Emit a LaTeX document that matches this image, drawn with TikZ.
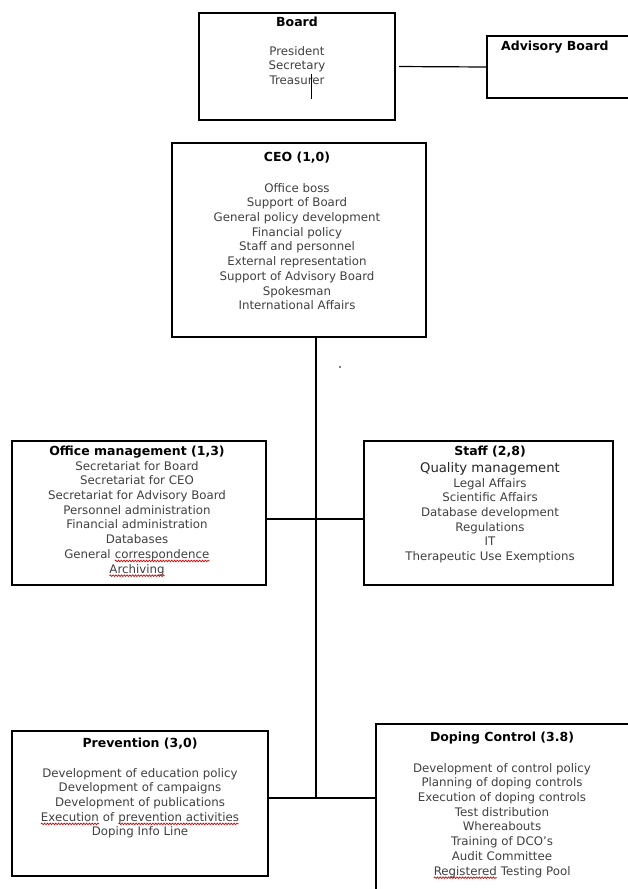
\documentclass[tikz,border=0pt]{standalone}
\usepackage{fontspec}
\setmainfont{DejaVu Sans}
\usetikzlibrary{decorations.pathmorphing}
\newcommand\squig[1]{\tikz[baseline=(sqw.base)]{\node[anchor=base,inner sep=0pt,outer sep=0pt,text=black!75](sqw) at (0,0){#1};\draw[red!85!black,line width=0.7pt,decorate,decoration={snake,amplitude=0.8pt,segment length=2.8pt}] ([yshift=-2.6pt]sqw.base west) -- ([yshift=-2.6pt]sqw.base east);}}
\tikzset{
  box/.style={draw, line width=1.2pt, inner sep=0pt, outer sep=0pt},
  ttl/.style={font=\bfseries\fontsize{12.5}{14}\selectfont, inner sep=0pt},
  body/.style={align=center, anchor=north, inner sep=0pt, font=\fontsize{11.8}{14.7}\selectfont, text=black!75},
  conn/.style={line width=1.2pt}
}
\begin{document}
\begin{tikzpicture}[x=1pt,y=-1pt]
\useasboundingbox (0,0) rectangle (628,889);
\clip (0,0) rectangle (628,889);
\fill[white] (0,0) rectangle (628,889);
% boxes
\node[box, minimum width=196pt, minimum height=107pt] (board) at (297,66.5) {};
\node[box, minimum width=200pt, minimum height=62pt] (adv) at (587,67) {};
\node[box, minimum width=254pt, minimum height=194pt] (ceo) at (299,240) {};
\node[box, minimum width=254pt, minimum height=144pt] (office) at (139,513) {};
\node[box, minimum width=249pt, minimum height=144pt] (staff) at (488.5,513) {};
\node[box, minimum width=256pt, minimum height=145pt] (prev) at (140,803.5) {};
\node[box, minimum width=324pt, minimum height=226pt] (dop) at (538,837) {};
% texts
\node[ttl] (boardT) at (297,22) {Board};
\node[body] (boardB) at (297,46) {President\\Secretary\\Treasurer};
\node[ttl, anchor=west] (advT) at (501,47) {Advisory Board};
\node[ttl] (ceoT) at (297,158) {CEO (1,0)};
\node[body] (ceoB) at (297,183) {Office boss\\Support of Board\\General policy development\\Financial policy\\Staff and personnel\\External representation\\Support of Advisory Board\\Spokesman\\International Affairs};
\node[ttl] (officeT) at (137,452) {Office management (1,3)};
\node[body] (officeB) at (137,461) {Secretariat for Board\\Secretariat for CEO\\Secretariat for Advisory Board\\Personnel administration\\Financial administration\\Databases\\General \squig{correspondence}\\\squig{Archiving}};
\node[ttl] (staffT) at (490,452) {Staff (2,8)};
\node[body, anchor=center, font=\fontsize{13.2}{15}\selectfont, text=black!85] (staffQ) at (490,469) {Quality management};
\node[body] (staffB) at (490,478) {Legal Affairs\\Scientific Affairs\\Database development\\Regulations\\IT\\Therapeutic Use Exemptions};
\node[ttl] (prevT) at (140,744) {Prevention (3,0)};
\node[body] (prevB) at (140,768) {Development of education policy\\Development of campaigns\\Development of publications\\\squig{Execution} of \squig{prevention activities}\\Doping Info Line};
\node[ttl] (dopT) at (502,738) {Doping Control (3.8)};
\node[body] (dopB) at (502,763) {Development of control policy\\Planning of doping controls\\Execution of doping controls\\Test distribution\\Whereabouts\\Training of DCO’s\\Audit Committee\\\squig{Registered} Testing Pool};
% stray marks
\draw[line width=1pt] (311,74) -- (311,99);
\fill (340,367) circle (0.9pt);
% connectors
\coordinate (j1) at (316,519);
\coordinate (j2) at (316,798);
\draw[conn, shorten <=4pt] (board.east) -- (adv.west);
\draw[conn] (ceo.south -| j1) -- (j2);
\draw[conn] (office.east |- j1) -- (staff.west |- j1);
\draw[conn] (prev.east |- j2) -- (dop.west |- j2);
\end{tikzpicture}
\end{document}
